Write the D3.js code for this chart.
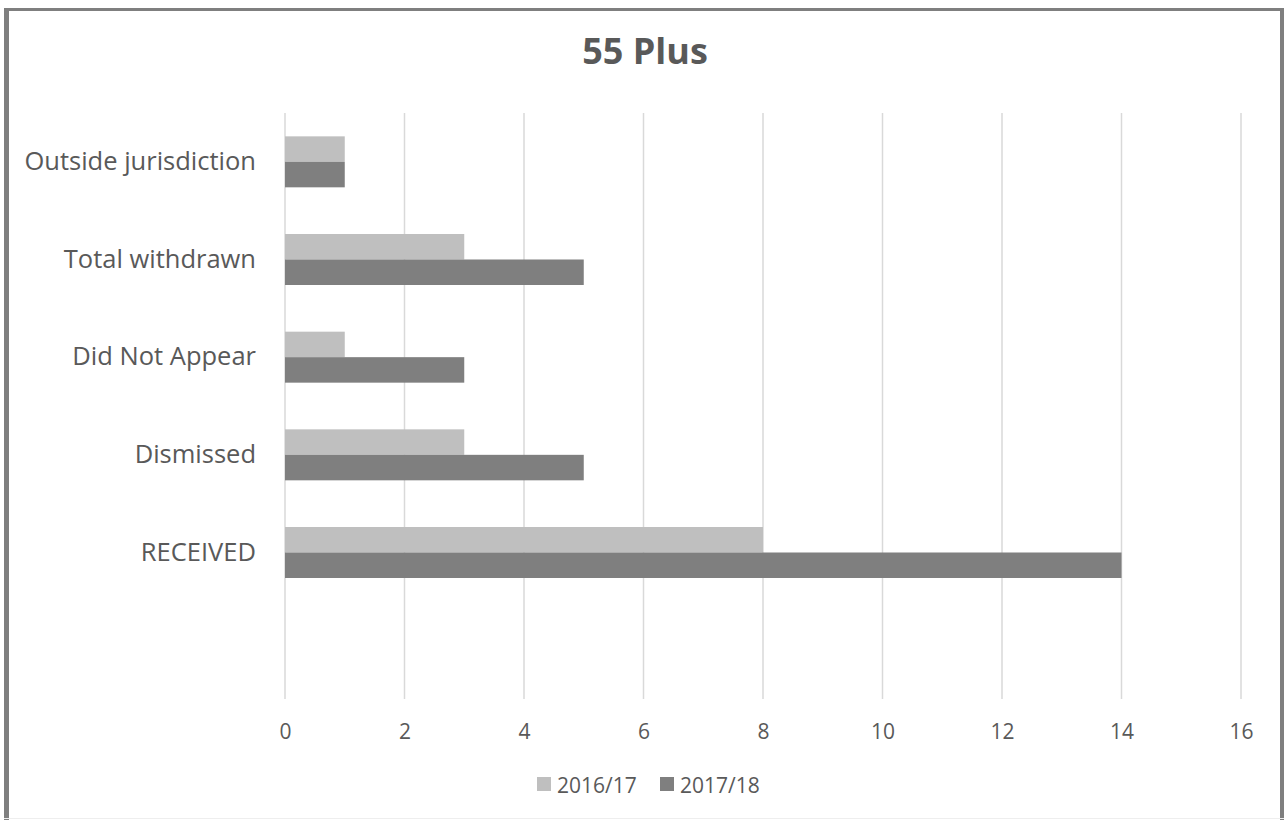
<!DOCTYPE html>
<html>
<head>
<meta charset="utf-8">
<script src="https://cdn.jsdelivr.net/npm/d3@7"></script>
<style>
  html, body { margin: 0; padding: 0; background: #fff; }
  svg { display: block; font-family: "Open Sans", sans-serif; }
</style>
</head>
<body>
<svg id="chart" width="1284" height="820"></svg>
<script>
const title = "55 Plus";
const categories = ["Outside jurisdiction", "Total withdrawn", "Did Not Appear", "Dismissed", "RECEIVED", ""];
const seriesNames = ["2016/17", "2017/18"];
const values2016 = [1, 3, 1, 3, 8, null];
const values2017 = [1, 5, 3, 5, 14, null];
const xTicks = [0, 2, 4, 6, 8, 10, 12, 14, 16];
const colors = ["#BFBFBF", "#7F7F7F"];

const svg = d3.select("#chart");

// outer frame
svg.append("rect").attr("x", 0).attr("y", 0).attr("width", 1284).attr("height", 820).attr("fill", "#fff");
svg.append("rect").attr("x", 4).attr("y", 8).attr("width", 5).attr("height", 812).attr("fill", "#7F7F7F");
svg.append("rect").attr("x", 4).attr("y", 8).attr("width", 1280).attr("height", 3).attr("fill", "#7F7F7F");
svg.append("rect").attr("x", 1280).attr("y", 8).attr("width", 4).attr("height", 812).attr("fill", "#7F7F7F");
svg.append("rect").attr("x", 4).attr("y", 818).attr("width", 1280).attr("height", 1).attr("fill", "#EEEEEE");

const x = d3.scaleLinear().domain([0, 16]).range([285, 1241]);
const y = d3.scaleBand().domain(categories).range([113, 699]).paddingInner(0).paddingOuter(0);
const groupH = y.bandwidth() * 0.522;
const inner = d3.scaleBand().domain(seriesNames).range([0, groupH]);

// gridlines
svg.append("g").selectAll("line").data(xTicks).join("line")
  .attr("x1", d => x(d)).attr("x2", d => x(d))
  .attr("y1", 113).attr("y2", 699)
  .attr("stroke", "#D9D9D9").attr("stroke-width", 1.5);

// bars
const series = [values2016, values2017];
series.forEach((vals, si) => {
  svg.append("g").selectAll("rect")
    .data(categories.map((c, i) => ({c, v: vals[i]})).filter(d => d.v != null))
    .join("rect")
    .attr("x", x(0))
    .attr("y", d => y(d.c) + (y.bandwidth() - groupH) / 2 + inner(seriesNames[si]))
    .attr("width", d => x(d.v) - x(0))
    .attr("height", inner.bandwidth())
    .attr("fill", colors[si]);
});

// x axis labels
const xAxis = d3.axisBottom(x).tickValues(xTicks).tickSize(0).tickPadding(0);
const gx = svg.append("g").attr("transform", "translate(0,724)").call(xAxis);
gx.select(".domain").remove();
gx.selectAll("text").attr("font-family", "Open Sans").attr("font-size", 21).attr("fill", "#595959");

// y axis labels
const yAxis = d3.axisLeft(y).tickSize(0).tickPadding(0);
const gy = svg.append("g").attr("transform", "translate(256,0)").call(yAxis);
gy.select(".domain").remove();
gy.selectAll("text").attr("font-family", "Open Sans").attr("font-size", 25.5).attr("fill", "#595959");

// title
svg.append("text").attr("x", 645).attr("y", 64).attr("text-anchor", "middle")
  .attr("font-size", 36).attr("font-weight", "bold").attr("fill", "#595959").text(title);

// legend
const legendX = [537, 660];
seriesNames.forEach((s, i) => {
  svg.append("rect").attr("x", legendX[i]).attr("y", 777).attr("width", 14).attr("height", 14).attr("fill", colors[i]);
  svg.append("text").attr("x", legendX[i] + 20).attr("y", 793).attr("font-size", 21).attr("fill", "#595959").text(s);
});
</script>
</body>
</html>
